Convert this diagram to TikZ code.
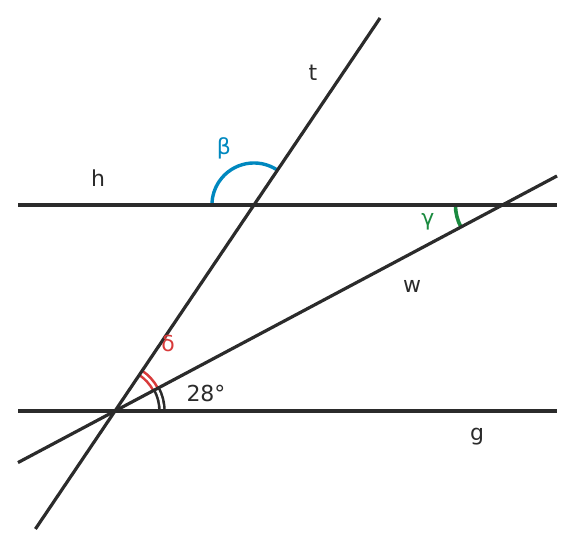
\documentclass[tikz,border=0pt]{standalone}
\usepackage{fontspec}
\setmainfont{DejaVu Sans}
\usetikzlibrary{calc}
\begin{document}
\begin{tikzpicture}[x=1pt,y=1pt,
  ln/.style={draw=lncol, line width=3.2pt},
  lbl/.style={font=\fontsize{22}{26}\selectfont, inner sep=0pt},
  dblarc/.style={line width=2.6pt, double=white, double distance=2.4pt},
]
\definecolor{lncol}{HTML}{2B2B2B}
\definecolor{bcol}{HTML}{0088BF}
\definecolor{gcol}{HTML}{1A8A3F}
\definecolor{rcol}{HTML}{D83A3A}
\useasboundingbox (0,0) rectangle (576,548);
% key points
\coordinate (A) at (115,137);
\coordinate (B) at ($(A)+(56:248.5)$);
\coordinate (C) at ($(A)+(28:438.8)$);
\coordinate (hL) at (18,343);
\coordinate (hR) at (557,343);
\coordinate (gL) at (18,137);
\coordinate (gR) at (557,137);
\coordinate (tT) at ($(A)+(56:474)$);
\coordinate (tB) at ($(A)+(236:142.3)$);
\coordinate (wR) at ($(A)+(28:500.6)$);
\coordinate (wL) at ($(A)+(208:109.9)$);
% arcs
\draw[dblarc, draw=lncol] ([shift=(0:47)]A) arc (0:28:47);
\draw[dblarc, draw=rcol] ([shift=(28:46)]A) arc (28:56:46);
\draw[bcol, line width=3.4pt] ([shift=(56:42)]B) arc (56:180:42);
\draw[gcol, line width=3.6pt] ([shift=(180:47)]C) arc (180:208:47);
% lines
\draw[ln] (hL) -- (hR);
\draw[ln] (gL) -- (gR);
\draw[ln] (tB) -- (tT);
\draw[ln] (wL) -- (wR);
% labels
\node[lbl, text=lncol] (lt) at (313,475) {t};
\node[lbl, text=lncol] (lh) at (98,370) {h};
\node[lbl, text=bcol] (lb) at (224,400) {β};
\node[lbl, text=gcol] (lg) at (428,326) {γ};
\node[lbl, text=lncol] (lw) at (412,262) {w};
\node[lbl, text=rcol] (ld) at (168,205) {δ};
\node[lbl, text=lncol] (la) at (206,155) {28°};
\node[lbl, text=lncol] (lgg) at (477,111) {g};
\end{tikzpicture}
\end{document}
